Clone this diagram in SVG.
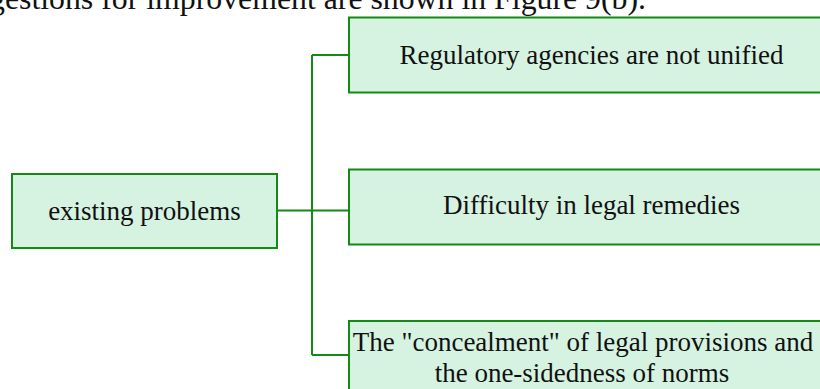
<svg xmlns="http://www.w3.org/2000/svg" width="820" height="389" viewBox="0 0 820 389">
  <style>
    .box { fill: #d6f3e1; stroke: #138a13; stroke-width: 2; }
    .lbl { font-family: "Liberation Serif", "Times New Roman", serif; font-size: 27px; fill: #111; text-anchor: middle; }
    .link { fill: none; stroke: #138a13; stroke-width: 2; }
    .caption { font-family: "Liberation Serif", "Times New Roman", serif; font-size: 31.8px; fill: #111; }
  </style>
  <rect width="820" height="389" fill="#ffffff"/>
  <text class="caption" x="-11" y="8.5">gestions for improvement are shown in Figure 9(b).</text>

  <g id="connectors">
    <path class="link" d="M277 210.5 H349"/>
    <path class="link" d="M312 55 V355"/>
    <path class="link" d="M312 55 H349"/>
    <path class="link" d="M312 355 H349"/>
  </g>

  <g id="root">
    <rect class="box" x="12" y="174" width="265" height="74"/>
    <text class="lbl" x="144.5" y="220">existing problems</text>
  </g>

  <g id="problem-1">
    <rect class="box" x="349" y="17.5" width="490" height="75"/>
    <text class="lbl" x="591.5" y="63.5">Regulatory agencies are not unified</text>
  </g>

  <g id="problem-2">
    <rect class="box" x="349" y="169.5" width="490" height="75"/>
    <text class="lbl" x="591.5" y="214">Difficulty in legal remedies</text>
  </g>

  <g id="problem-3">
    <rect class="box" x="349" y="321" width="490" height="80"/>
    <text class="lbl" x="583" y="350.5">The "concealment" of legal provisions and</text>
    <text class="lbl" x="582" y="381.5">the one-sidedness of norms</text>
  </g>
</svg>
